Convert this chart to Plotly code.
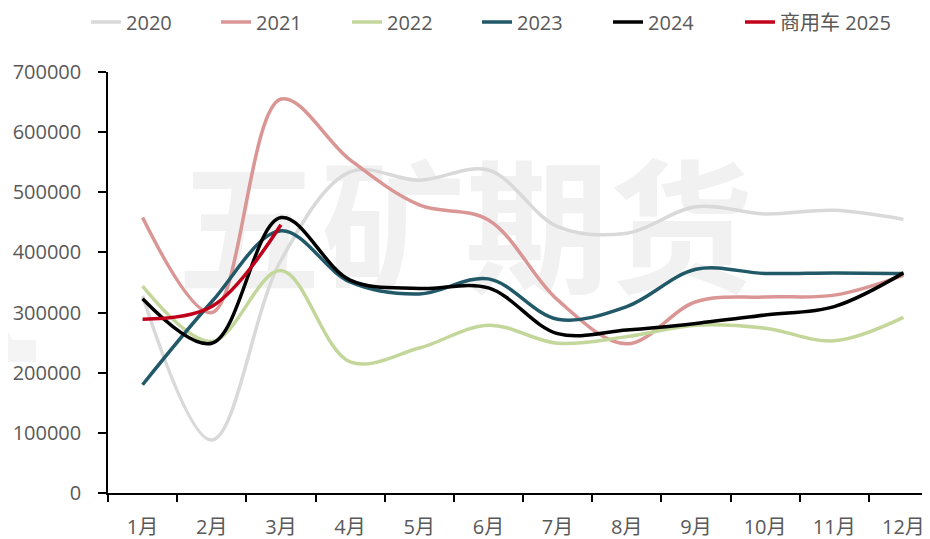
import plotly.graph_objects as go

months = ["1月", "2月", "3月", "4月", "5月", "6月", "7月", "8月", "9月", "10月", "11月", "12月"]

s2020 = [328000, 88000, 387000, 534000, 520000, 537000, 443000, 432000, 476000, 464000, 470000, 455000]
s2021 = [458000, 300000, 655000, 554000, 479000, 454000, 321000, 248000, 318000, 326000, 329000, 362000]
s2022 = [344000, 252000, 370000, 218000, 241000, 279000, 249000, 260000, 279000, 274000, 253000, 292000]
s2023 = [180000, 318000, 436000, 351000, 331000, 356000, 289000, 310000, 372000, 365000, 366000, 365000]
s2024 = [323000, 249000, 458000, 354000, 340000, 341000, 265000, 271000, 282000, 296000, 310000, 366000]
s2025 = [289000, 310000, 446000]

names = ["2020", "2021", "2022", "2023", "2024", "商用车 2025"]
colors = ["#D9D9D9", "#DA9694", "#C4D79B", "#215968", "#000000", "#C0001A"]
series = [s2020, s2021, s2022, s2023, s2024, s2025]
legend_ids = ["legend", "legend2", "legend3", "legend4", "legend5", "legend6"]
legend_x = [0.0839, 0.2237, 0.3645, 0.5043, 0.6452, 0.7871]

font_family = "Open Sans, Noto Sans CJK SC, sans-serif"

fig = go.Figure()
for name, color, vals, lg in zip(names, colors, series, legend_ids):
    fig.add_trace(go.Scatter(
        x=months[:len(vals)], y=vals, name=name, mode="lines",
        line=dict(color=color, width=3.5, shape="spline", smoothing=1.0),
        hoverinfo="skip", legend=lg,
    ))

# watermark text
fig.add_shape(
    type="rect", xref="paper", yref="paper",
    x0=0.0, x1=0.86, y0=0.431, y1=0.761,
    line=dict(width=0), fillcolor="rgba(0,0,0,0)", layer="below",
    label=dict(text="五矿期货", textposition="middle center",
               font=dict(size=144, color="#f1f1f1", family="Noto Sans CJK SC", weight="bold")),
)
# faint watermark fragment at left edge
fig.add_shape(
    type="path", xref="paper", yref="paper", xsizemode="pixel", ysizemode="pixel",
    xanchor=0, yanchor=1,
    path="M -108 -250 L -104 -250 L -96 -268 L -72 -268 L -72 -290 L -108 -290 Z",
    line=dict(width=0), fillcolor="#f4f4f4", layer="below",
)

layout_legends = {}
for lg, lx in zip(legend_ids, legend_x):
    layout_legends[lg] = dict(
        orientation="h", xref="container", yref="paper",
        x=lx, y=1.1188, xanchor="left", yanchor="middle",
        font=dict(size=20, color="#595959", family=font_family),
        bgcolor="rgba(0,0,0,0)", itemclick=False, tracegroupgap=0,
    )

fig.update_layout(
    width=930, height=539,
    margin=dict(l=100, r=0, t=64, b=54, autoexpand=False),
    paper_bgcolor="white", plot_bgcolor="white",
    font=dict(family=font_family, size=20, color="#595959"),
    showlegend=True,
    xaxis=dict(
        type="category", categoryorder="array", categoryarray=months,
        range=[-0.5, 11.5], tickson="boundaries", automargin=False,
        ticks="outside", ticklen=7, tickwidth=1.5, tickcolor="#000000",
        showline=True, linecolor="#000000", linewidth=1.5,
        showgrid=False, zeroline=False,
        tickfont=dict(size=20, color="#595959", family=font_family),
        ticklabelstandoff=15,
    ),
    yaxis=dict(
        range=[0, 700000], dtick=100000, tickformat="d", automargin=False,
        ticks="outside", ticklen=8, tickwidth=1.5, tickcolor="#000000",
        showline=True, linecolor="#000000", linewidth=1.5,
        showgrid=False, zeroline=False,
        tickfont=dict(size=20, color="#595959", family=font_family),
        ticklabelstandoff=13,
    ),
    **layout_legends,
)

fig.write_html("out.html")
